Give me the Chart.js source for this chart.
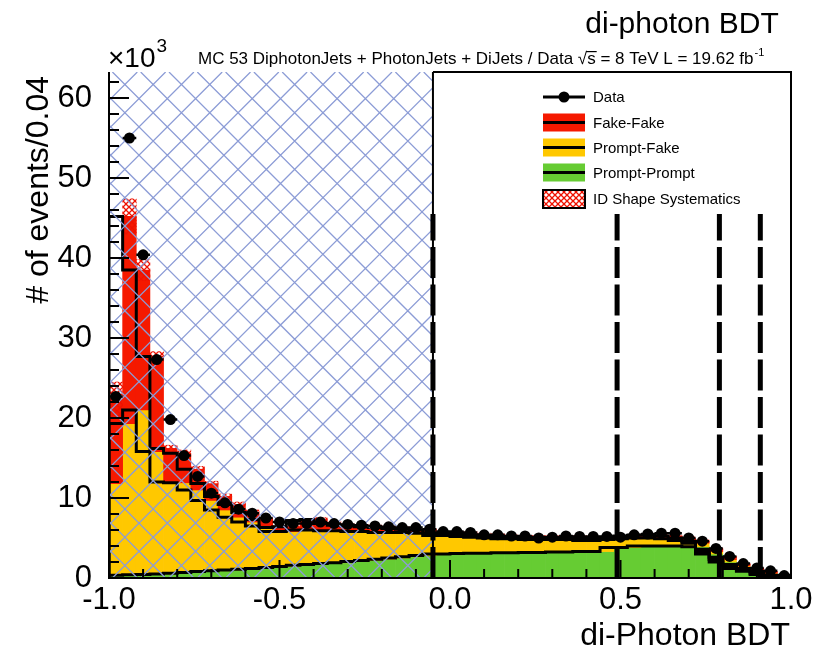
<!DOCTYPE html>
<html>
<head>
<meta charset="utf-8">
<title>di-photon BDT</title>
<script src="https://cdn.jsdelivr.net/npm/chart.js@4.4.1/dist/chart.umd.min.js"></script>
<style>
html, body { margin: 0; padding: 0; background: #fff; }
</style>
</head>
<body>
<canvas id="myChart" width="817" height="651"></canvas>
<script>
// binning of the di-photon BDT output
const binLow = -1.0;
const binWidth = 0.04;

// stacked MC yields per bin (x10^3 events)
const promptPrompt = [0.3, 0.35, 0.4, 0.45, 0.5, 0.6, 0.7, 0.8, 0.9, 1.0,
  1.1, 1.2, 1.3, 1.45, 1.6, 1.7, 1.8, 1.9, 2.05, 2.2,
  2.35, 2.5, 2.65, 2.8, 3.0, 3.0, 3.05, 3.1, 3.1, 3.15,
  3.15, 3.2, 3.2, 3.25, 3.25, 3.3, 3.3, 3.8, 3.8, 4.0,
  4.0, 4.0, 4.0, 3.9, 3.0, 2.0, 1.2, 0.85, 0.45, 0.2];
const promptFake = [11.5, 18.95, 20.6, 15.35, 11.5, 11.3, 10.3, 8.9, 7.6, 6.6,
  5.9, 5.3, 4.5, 4.35, 4.4, 4.3, 4.1, 4.0, 3.75, 3.6,
  3.35, 3.2, 3.05, 2.8, 2.3, 2.3, 2.15, 2.0, 1.9, 1.75,
  1.75, 1.6, 1.6, 1.55, 1.55, 1.4, 1.4, 1.0, 1.1, 1.0,
  1.0, 0.9, 0.7, 0.45, 0.3, 0.3, 0.3, 0.15, 0.15, 0.05];
const fakeFake = [10.4, 25.9, 17.5, 11.9, 4.2, 3.7, 2.6, 2.1, 1.7, 1.6,
  1.2, 0.8, 0.5, 0.6, 1.2, 1.3, 0.9, 0.7, 0.7, 0.6,
  0.6, 0.5, 0.4, 0.4, 0.35, 0.35, 0.35, 0.3, 0.3, 0.3,
  0.3, 0.3, 0.3, 0.3, 0.3, 0.3, 0.3, 0.3, 0.35, 0.35,
  0.35, 0.35, 0.3, 0.25, 0.3, 0.3, 0.2, 0.2, 0.2, 0.1];
// ID shape systematic (half width of band)
const idShapeSyst = [2.3, 2.2, 1.3, 0.6, 0.4, 0.4, 0.35, 0.3, 0.3, 0.3,
  0.3, 0.25, 0.25, 0.25, 0.25, 0.25, 0.25, 0.2, 0.2, 0.2,
  0.2, 0.2, 0.2, 0.2, 0.2, 0.2, 0.2, 0.2, 0.2, 0.2,
  0.2, 0.2, 0.2, 0.2, 0.2, 0.2, 0.2, 0.2, 0.2, 0.2,
  0.2, 0.2, 0.2, 0.15, 0.15, 0.1, 0.1, 0.1, 0.05, 0.05];
// data
const dataYield = [22.7, 55.0, 40.4, 27.3, 19.8, 15.3, 12.7, 10.6, 9.4, 8.6,
  8.1, 7.5, 7.0, 6.8, 6.8, 7.0, 6.8, 6.7, 6.6, 6.5,
  6.4, 6.3, 6.3, 6.1, 5.8, 5.8, 5.7, 5.4, 5.4, 5.25,
  5.25, 5.0, 5.1, 5.25, 5.2, 5.2, 5.2, 5.1, 5.4, 5.5,
  5.6, 5.6, 5.0, 4.6, 3.7, 2.7, 1.8, 1.25, 0.9, 0.3];

const xTickValues = [-1.0, -0.5, 0.0, 0.5, 1.0];
const xTickLabels = ["-1.0", "-0.5", "0.0", "0.5", "1.0"];
const yTickValues = [0, 10, 20, 30, 40, 50, 60];
const yTickLabels = ["0", "10", "20", "30", "40", "50", "60"];
const yMax = 63.25;

// category boundaries (dashed) and the hatched low-BDT region
const catBoundaries = [-0.05, 0.49, 0.79, 0.91];
const catLineTop = 45.5;

const colPP = "#66cc33";
const colPF = "#ffc800";
const colFF = "#f51900";
const font = "'Liberation Sans', Arial, Helvetica, sans-serif";

const centers = promptPrompt.map((_, i) => +(binLow + binWidth * (i + 0.5)).toFixed(3));
const edges = promptPrompt.map((_, i) => +(binLow + binWidth * i).toFixed(3));
const lvlPP = promptPrompt.slice();
const lvlPF = lvlPP.map((v, i) => v + promptFake[i]);
const lvlFF = lvlPF.map((v, i) => v + fakeFake[i]);

function stepOutline(levels) {
  var pts = [{x: binLow, y: 0}];
  levels.forEach((v, i) => pts.push({x: edges[i], y: v}));
  pts.push({x: 1.0, y: levels[levels.length - 1]});
  pts.push({x: 1.0, y: 0});
  return pts;
}

function crossPattern() {
  var c = document.createElement("canvas");
  c.width = 6; c.height = 6;
  var g = c.getContext("2d");
  g.strokeStyle = "#ee1100";
  g.lineWidth = 1.3;
  g.beginPath();
  g.moveTo(0, 0); g.lineTo(6, 6);
  g.moveTo(6, 0); g.lineTo(0, 6);
  g.stroke();
  return document.getElementById("myChart").getContext("2d").createPattern(c, "repeat");
}
const systPattern = crossPattern();

function drawHatch(chart) {
  const {ctx, chartArea: a, scales: {x}} = chart;
  const x1 = x.getPixelForValue(binLow), x2 = x.getPixelForValue(catBoundaries[0]);
  const h = a.bottom - a.top, step = 28.3;
  ctx.save();
  ctx.beginPath();
  ctx.rect(x1, a.top, x2 - x1, h);
  ctx.clip();
  ctx.strokeStyle = "rgb(140,156,214)";
  ctx.lineWidth = 1.3;
  ctx.beginPath();
  for (let c = x1 - h - step; c < x2 + h + step; c += step) {
    ctx.moveTo(c, a.top); ctx.lineTo(c + h, a.bottom);
    ctx.moveTo(c, a.bottom); ctx.lineTo(c + h, a.top);
  }
  ctx.stroke();
  ctx.restore();
}

function drawErrors(chart) {
  const {ctx, scales: {x, y}} = chart;
  ctx.save();
  ctx.strokeStyle = "#000";
  ctx.lineWidth = 2.5;
  ctx.beginPath();
  dataYield.forEach((v, i) => {
    var py = y.getPixelForValue(v);
    ctx.moveTo(x.getPixelForValue(centers[i] - binWidth / 2), py);
    ctx.lineTo(x.getPixelForValue(centers[i] + binWidth / 2), py);
    var err = Math.sqrt(v * 1000) / 1000;
    var px = x.getPixelForValue(centers[i]);
    ctx.moveTo(px, y.getPixelForValue(v - err));
    ctx.lineTo(px, y.getPixelForValue(v + err));
  });
  ctx.stroke();
  ctx.restore();
}

function drawFrame(chart) {
  const {ctx, chartArea: a, scales: {x, y}} = chart;
  ctx.save();
  ctx.strokeStyle = "#000";
  ctx.lineWidth = 2;
  ctx.beginPath();
  ctx.moveTo(a.left, a.top); ctx.lineTo(a.left, a.bottom); ctx.lineTo(a.right, a.bottom); ctx.lineTo(a.right, a.top);
  ctx.lineTo(x.getPixelForValue(catBoundaries[0]), a.top);
  // thin edge of the hatched region
  ctx.moveTo(x.getPixelForValue(catBoundaries[0]), a.top);
  ctx.lineTo(x.getPixelForValue(catBoundaries[0]), a.bottom);
  // y ticks
  for (let v = 0; v <= yMax; v += 2) {
    var py = y.getPixelForValue(v);
    ctx.moveTo(a.left, py); ctx.lineTo(a.left + (v % 10 === 0 ? 20 : 10), py);
  }
  // x ticks
  for (let k = 0; k <= 20; k++) {
    var px = x.getPixelForValue(-1 + k * 0.1);
    ctx.moveTo(px, a.bottom); ctx.lineTo(px, a.bottom - (k % 5 === 0 ? 18 : 9));
  }
  ctx.stroke();

  // category boundaries
  ctx.lineWidth = 5;
  ctx.setLineDash([31, 6.5]);
  catBoundaries.forEach(b => {
    var px = x.getPixelForValue(b);
    ctx.beginPath();
    ctx.moveTo(px, y.getPixelForValue(0));
    ctx.lineTo(px, y.getPixelForValue(catLineTop));
    ctx.stroke();
  });
  ctx.restore();
}

function drawLegend(chart) {
  const ctx = chart.ctx;
  const rows = [
    {label: "Data", kind: "data", y: 97},
    {label: "Fake-Fake", color: colFF, y: 122.5},
    {label: "Prompt-Fake", color: colPF, y: 147.5},
    {label: "Prompt-Prompt", color: colPP, y: 172.5},
    {label: "ID Shape Systematics", kind: "syst", y: 199}
  ];
  const x0 = 543, x1 = 585;
  ctx.save();
  rows.forEach(r => {
    if (r.kind === "data") {
      ctx.strokeStyle = "#000"; ctx.lineWidth = 3;
      ctx.beginPath(); ctx.moveTo(x0, r.y); ctx.lineTo(x1, r.y); ctx.stroke();
      ctx.fillStyle = "#000";
      ctx.beginPath(); ctx.arc((x0 + x1) / 2, r.y, 5.5, 0, 2 * Math.PI); ctx.fill();
    } else if (r.kind === "syst") {
      ctx.fillStyle = "#fff"; ctx.fillRect(x0, r.y - 9, x1 - x0, 18);
      ctx.fillStyle = systPattern; ctx.fillRect(x0, r.y - 9, x1 - x0, 18);
      ctx.strokeStyle = "#000"; ctx.lineWidth = 2;
      ctx.strokeRect(x0, r.y - 9, x1 - x0, 18);
    } else {
      ctx.fillStyle = r.color; ctx.fillRect(x0, r.y - 9, x1 - x0, 18);
      ctx.strokeStyle = "#000"; ctx.lineWidth = 3;
      ctx.beginPath(); ctx.moveTo(x0, r.y); ctx.lineTo(x1, r.y); ctx.stroke();
    }
    ctx.fillStyle = "#000";
    ctx.font = "15px " + font;
    ctx.textAlign = "left"; ctx.textBaseline = "middle";
    ctx.fillText(r.label, 593, r.y + 1);
  });
  ctx.restore();
}

function drawTitles(chart) {
  const ctx = chart.ctx;
  ctx.save();
  ctx.fillStyle = "#000";
  ctx.textBaseline = "alphabetic";

  ctx.font = "30px " + font;
  ctx.textAlign = "center";
  ctx.fillText("di-photon BDT", 682, 33);

  ctx.textAlign = "left";
  ctx.font = "28px " + font;
  ctx.fillText("\u00d710", 108, 67);
  var w = ctx.measureText("\u00d710").width;
  ctx.font = "19px " + font;
  ctx.fillText("3", 108 + w + 1, 52);

  // MC / data description line
  ctx.font = "17px " + font;
  var tx = 198, ty = 64;
  var part1 = "MC 53 DiphotonJets + PhotonJets + DiJets / Data ";
  ctx.fillText(part1, tx, ty); tx += ctx.measureText(part1).width;
  ctx.fillText("\u221a", tx, ty); tx += ctx.measureText("\u221a").width;
  var sw = ctx.measureText("s").width;
  ctx.fillText("s", tx, ty);
  ctx.fillRect(tx - 1, ty - 13, sw + 2, 1.2);
  tx += sw;
  var part2 = " = 8 TeV L = 19.62 fb";
  ctx.fillText(part2, tx, ty); tx += ctx.measureText(part2).width;
  ctx.font = "11px " + font;
  ctx.fillText("-1", tx + 1, ty - 8);

  // axis titles
  ctx.font = "32px " + font;
  ctx.textAlign = "right";
  ctx.fillText("di-Photon BDT", 790, 645);
  ctx.translate(48, 76);
  ctx.rotate(-Math.PI / 2);
  ctx.fillText("# of events/0.04", 0, 0);
  ctx.restore();
}

const rootStyle = {
  id: "rootStyle",
  beforeDatasetDraw(chart, args) {
    if (args.index === 0) drawHatch(chart);
  },
  afterDatasetsDraw(chart) {
    drawErrors(chart);
  },
  afterDraw(chart) {
    drawFrame(chart);
    drawLegend(chart);
    drawTitles(chart);
  }
};

const barOpts = {grouped: false, barPercentage: 1, categoryPercentage: 1, borderWidth: 0, order: 3};

new Chart("myChart", {
  type: "bar",
  data: {
    datasets: [
      {type: "line", label: "Data", data: centers.map((x, i) => ({x: x, y: dataYield[i]})),
        showLine: false, pointRadius: 5.5, pointBackgroundColor: "#000", pointBorderWidth: 0, order: 0},
      {type: "line", data: stepOutline(lvlPP), stepped: "after", borderColor: "#000", borderWidth: 3, pointRadius: 0, fill: false, order: 1},
      {type: "line", data: stepOutline(lvlPF), stepped: "after", borderColor: "#000", borderWidth: 3, pointRadius: 0, fill: false, order: 1},
      {type: "line", data: stepOutline(lvlFF), stepped: "after", borderColor: "#000", borderWidth: 3, pointRadius: 0, fill: false, order: 1},
      Object.assign({label: "ID Shape Systematics", backgroundColor: systPattern,
        data: centers.map((x, i) => ({x: x, y: [lvlFF[i] - idShapeSyst[i], lvlFF[i] + idShapeSyst[i]]}))}, barOpts, {order: 2}),
      Object.assign({label: "Fake-Fake", backgroundColor: colFF,
        data: centers.map((x, i) => ({x: x, y: [lvlPF[i], lvlFF[i]]}))}, barOpts),
      Object.assign({label: "Prompt-Fake", backgroundColor: colPF,
        data: centers.map((x, i) => ({x: x, y: [lvlPP[i], lvlPF[i]]}))}, barOpts),
      Object.assign({label: "Prompt-Prompt", backgroundColor: colPP,
        data: centers.map((x, i) => ({x: x, y: [0, lvlPP[i]]}))}, barOpts)
    ]
  },
  options: {
    responsive: false,
    animation: false,
    layout: {padding: {top: 72, right: 26, left: 0, bottom: 0}},
    plugins: {legend: {display: false}, tooltip: {enabled: false}},
    scales: {
      x: {
        type: "linear", min: -1, max: 1, offset: false,
        grid: {display: false, offset: false}, border: {display: false},
        afterBuildTicks: s => { s.ticks = xTickValues.map(v => ({value: v})); },
        afterFit: s => { s.height = 73; },
        ticks: {
          autoSkip: false, maxRotation: 0, padding: -4, color: "#000",
          font: {family: font, size: 31},
          callback: (v, i) => xTickLabels[i]
        }
      },
      y: {
        type: "linear", min: 0, max: yMax,
        grid: {display: false}, border: {display: false},
        afterBuildTicks: s => { s.ticks = yTickValues.map(v => ({value: v})); },
        afterFit: s => { s.width = 109; },
        ticks: {
          padding: 9, color: "#000",
          font: {family: font, size: 31},
          callback: (v, i) => yTickLabels[i]
        }
      }
    }
  },
  plugins: [rootStyle]
});
</script>
</body>
</html>
